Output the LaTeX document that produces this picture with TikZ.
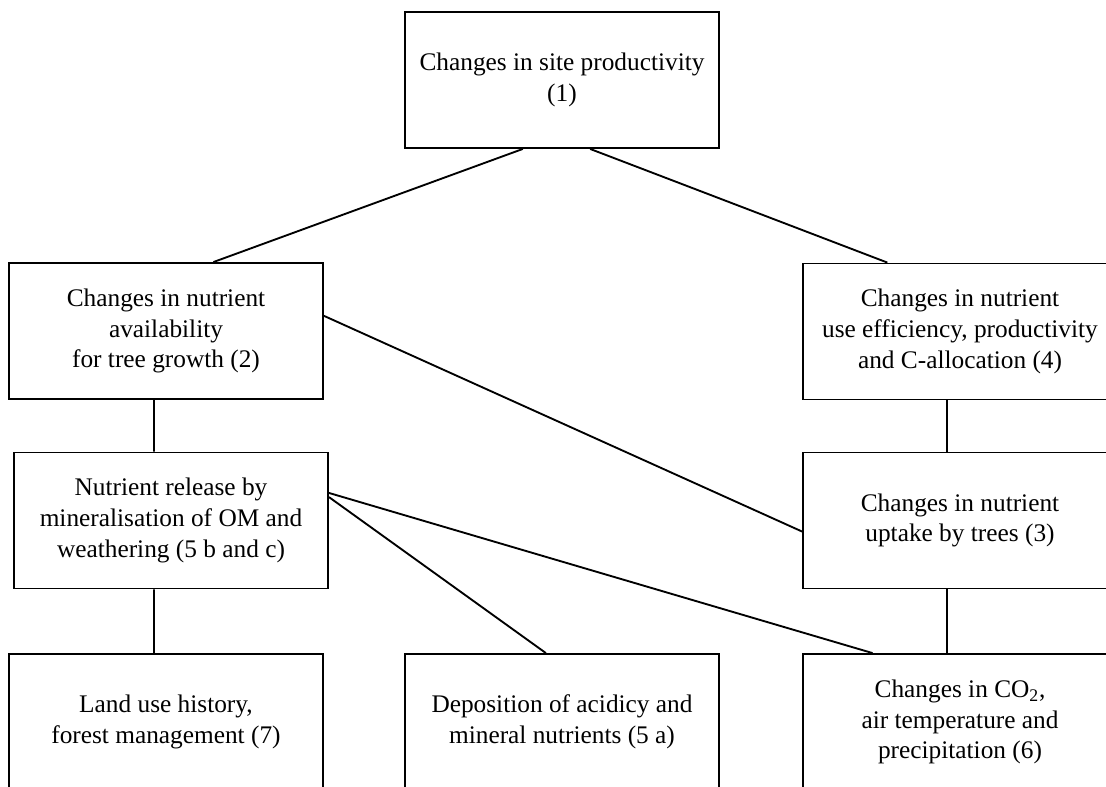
\documentclass[tikz,border=0pt]{standalone}
\usepackage{fontspec}
\setmainfont{Liberation Serif}
\usepackage{tikz}
\usetikzlibrary{positioning,calc}
\tikzstyle{box} = [rectangle, draw=black, line width=1.4pt, minimum width=235.5pt, minimum height=102pt, inner sep=0pt, align=center, font=\fontsize{19}{23}\selectfont]
\tikzstyle{link} = [line width=1.4pt]

\begin{document}
\begin{tikzpicture}[x=0.75pt,y=-0.75pt]
					\useasboundingbox (0,0) rectangle (1106,786);
					\clip (0,0) rectangle (1106,786);
					% boxes, row by row
					\node (prod) [box] at (562,80) {Changes in site productivity\\(1)};
					\node (avail) [box] at (166,331) {Changes in nutrient\\availability\\for tree growth (2)};
					\node (effic) [box] at (960,331.5) {Changes in nutrient\\use efficiency, productivity\\and C-allocation (4)};
					\node (release) [box] at (171,520.5) {Nutrient release by\\mineralisation of OM and\\weathering (5 b and c)};
					\node (uptake) [box] at (960,520.5) {Changes in nutrient\\uptake by trees (3)};
					\node (landuse) [box] at (166,722) {Land use history,\\forest management (7)};
					\node (depos) [box] at (562,722) {Deposition of acidicy and\\mineral nutrients (5 a)};
					\node (climate) [box] at (960,722) {Changes in CO\textsubscript{2},\\air temperature and\\precipitation (6)};
					% connectors
					\draw[link] ($(prod.south west)!0.376!(prod.south east)$) -- ($(avail.north west)!0.65!(avail.north east)$);
					\draw[link] ($(prod.south west)!0.589!(prod.south east)$) -- ($(effic.north west)!0.27!(effic.north east)$);
					\draw[link] ($(avail.north east)!0.39!(avail.south east)$) -- ($(uptake.north west)!0.58!(uptake.south west)$);
					\draw[link] ($(avail.south west)!0.462!(avail.south east)$) -- ($(release.north west)!0.446!(release.north east)$);
					\draw[link] ($(effic.south west)!0.459!(effic.south east)$) -- ($(uptake.north west)!0.459!(uptake.north east)$);
					\draw[link] ($(release.north east)!0.30!(release.south east)$) -- ($(climate.north west)!0.223!(climate.north east)$);
					\draw[link] ($(release.north east)!0.33!(release.south east)$) -- ($(depos.north west)!0.449!(depos.north east)$);
					\draw[link] ($(release.south west)!0.446!(release.south east)$) -- ($(landuse.north west)!0.462!(landuse.north east)$);
					\draw[link] ($(uptake.south west)!0.459!(uptake.south east)$) -- ($(climate.north west)!0.459!(climate.north east)$);
\end{tikzpicture}
\end{document}
